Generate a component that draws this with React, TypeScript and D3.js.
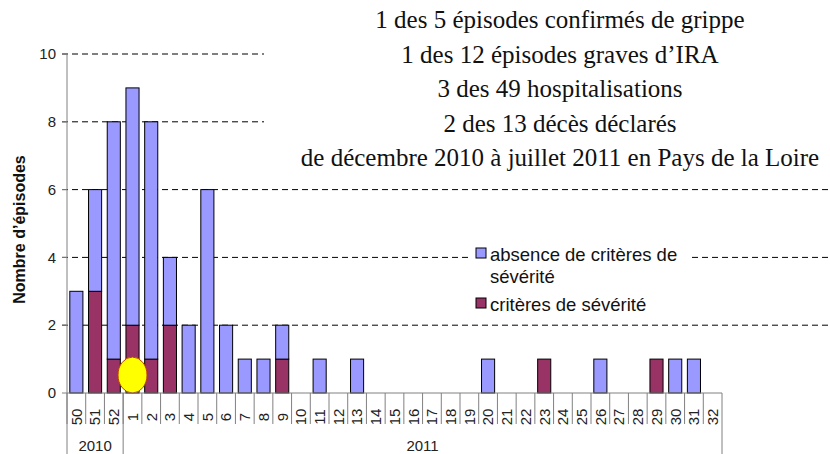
import * as d3 from "d3";

const WIDTH = 830;
const HEIGHT = 454;

// weeks (2010: 50-52, 2011: 1-32)
const weeks = [
  "50", "51", "52", "1", "2", "3", "4", "5", "6", "7", "8", "9", "10", "11", "12", "13", "14",
  "15", "16", "17", "18", "19", "20", "21", "22", "23", "24", "25", "26", "27", "28", "29", "30",
  "31", "32",
];
const severe = [
  0, 3, 1, 2, 1, 2, 0, 0, 0, 0, 0, 1, 0, 0, 0, 0, 0,
  0, 0, 0, 0, 0, 0, 0, 0, 1, 0, 0, 0, 0, 0, 1, 0,
  0, 0,
];
const nonSevere = [
  3, 3, 7, 7, 7, 2, 2, 6, 2, 1, 1, 1, 0, 1, 0, 1, 0,
  0, 0, 0, 0, 0, 1, 0, 0, 0, 0, 0, 1, 0, 0, 0, 1,
  1, 0,
];
const yTicks = [0, 2, 4, 6, 8, 10];
const years = [
  { label: "2010", first: "50", last: "52" },
  { label: "2011", first: "1", last: "32" },
];
const titleLines = [
  "1 des 5 épisodes confirmés de grippe",
  "1 des 12 épisodes graves d’IRA",
  "3 des 49 hospitalisations",
  "2 des 13 décès déclarés",
  "de décembre 2010 à juillet 2011 en Pays de la Loire",
];
const legendItems = [
  { key: "nonSevere", lines: ["absence de critères de", "sévérité"] },
  { key: "severe", lines: ["critères de sévérité"] },
];

const COLORS: Record<string, string> = { severe: "#993366", nonSevere: "#9999FF" };
const AXIS = "#808080";
const SANS = "'Liberation Sans', Arial, sans-serif";

// plot area
const X0 = 67;
const X1 = 722;
const Y0 = 393;
const Y1 = 54;

export default function App() {
  const xScale = d3
    .scaleBand()
    .domain(weeks)
    .range([X0, X1])
    .paddingInner(0.3)
    .paddingOuter(0.15);
  const step = xScale.step();
  const cellLeft = (w: string) => (xScale(w) as number) - step * 0.15;

  const yScale = d3.scaleLinear().domain([0, 10]).range([Y0, Y1]);

  const rows = weeks.map((w, i) => ({ week: w, severe: severe[i], nonSevere: nonSevere[i] }));
  const stacked = d3.stack<any>().keys(["severe", "nonSevere"])(rows);

  return (
    <svg
      width={WIDTH}
      height={HEIGHT}
      style={{ position: "absolute", left: 0, top: 0, background: "#fff" }}
    >
      {/* gridlines */}
      {yTicks
        .filter((t) => t > 0)
        .map((t) => (
          <line
            key={t}
            x1={62}
            x2={WIDTH}
            y1={yScale(t)}
            y2={yScale(t)}
            stroke="#000"
            strokeDasharray="6,4"
          />
        ))}

      {/* bars */}
      {stacked.map((layer) => (
        <g key={layer.key} fill={COLORS[layer.key]} stroke="#000" strokeWidth={1}>
          {layer.map((d: any) =>
            d[1] - d[0] > 0 ? (
              <rect
                key={d.data.week}
                x={xScale(d.data.week)}
                y={yScale(d[1])}
                width={xScale.bandwidth()}
                height={yScale(d[0]) - yScale(d[1])}
              />
            ) : null
          )}
        </g>
      ))}

      {/* annotation on week 1 */}
      <ellipse
        cx={(xScale("1") as number) + xScale.bandwidth() / 2}
        cy={yScale(0.53)}
        rx={14.5}
        ry={18}
        fill="#FFFF00"
        stroke="#C04000"
        strokeWidth={1}
      />

      {/* Y axis */}
      <line x1={X0} x2={X0} y1={Y1} y2={HEIGHT} stroke={AXIS} />
      {yTicks.map((t) => (
        <g key={t} transform={`translate(0,${yScale(t)})`}>
          <line x1={62} x2={X0} stroke={AXIS} />
          <text
            x={56}
            dy="0.35em"
            textAnchor="end"
            fontFamily={SANS}
            fontSize={15}
            fill="#222"
          >
            {t}
          </text>
        </g>
      ))}
      <text
        transform={`translate(25,${(Y0 + Y1) / 2 + 6}) rotate(-90)`}
        textAnchor="middle"
        fontFamily={SANS}
        fontSize={16}
        fontWeight="bold"
        fill="#111"
      >
        Nombre d’épisodes
      </text>

      {/* X axis */}
      <line x1={X0} x2={X1} y1={Y0} y2={Y0} stroke={AXIS} />
      {weeks.map((w) => (
        <line key={w} x1={cellLeft(w)} x2={cellLeft(w)} y1={Y0} y2={424} stroke={AXIS} />
      ))}
      <line x1={X1} x2={X1} y1={Y0} y2={HEIGHT} stroke={AXIS} />
      {weeks.map((w) => (
        <text
          key={w}
          transform={`translate(${(xScale(w) as number) + xScale.bandwidth() / 2},417) rotate(-90)`}
          textAnchor="middle"
          dy="0.36em"
          fontFamily={SANS}
          fontSize={15}
          fill="#222"
        >
          {w}
        </text>
      ))}
      {years.map((yr, i) => {
        const left = cellLeft(yr.first);
        const right = cellLeft(yr.last) + step;
        return (
          <g key={yr.label}>
            {i > 0 && <line x1={left} x2={left} y1={Y0} y2={HEIGHT} stroke={AXIS} />}
            <text
              x={(left + right) / 2}
              y={451}
              textAnchor="middle"
              fontFamily={SANS}
              fontSize={15}
              fill="#222"
            >
              {yr.label}
            </text>
          </g>
        );
      })}

      {/* legend */}
      <rect x={468} y={238} width={222} height={82} fill="#fff" />
      {legendItems.map((item, i) => {
        const top = i === 0 ? 248 : 298;
        return (
          <g key={item.key}>
            <rect
              x={476}
              y={top}
              width={10}
              height={10}
              fill={COLORS[item.key]}
              stroke="#000"
            />
            {item.lines.map((ln, j) => (
              <text
                key={j}
                x={490}
                y={top + 13 + j * 22}
                fontFamily={SANS}
                fontSize={18.5}
                fill="#111"
              >
                {ln}
              </text>
            ))}
          </g>
        );
      })}

      {/* title box */}
      <rect x={264} y={0} width={WIDTH - 264} height={176} fill="#fff" />
      {titleLines.map((ln, i) => (
        <text
          key={i}
          x={560}
          y={28 + i * 34.5}
          textAnchor="middle"
          fontFamily="'Liberation Serif', 'DejaVu Serif', serif"
          fontSize={25}
          fill="#111"
        >
          {ln}
        </text>
      ))}
    </svg>
  );
}
